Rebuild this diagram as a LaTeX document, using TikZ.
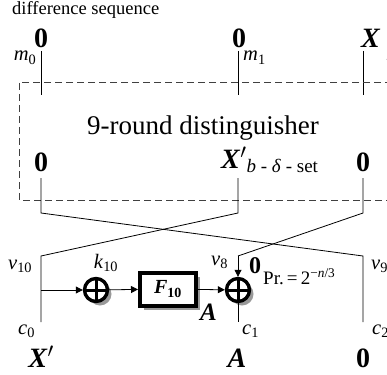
\documentclass[tikz,border=0pt]{standalone}
\usepackage{fontspec}
\setmainfont{Liberation Serif}
\usetikzlibrary{arrows.meta,shadows}
\newcommand{\vlab}[2]{\textit{#1}\textsubscript{#2}}
\newcommand{\bvar}[1]{\textbf{\textit{#1}}}
\tikzset{
  sig/.style={line width=0.8pt},
  flow/.style={sig,-{Triangle[length=7pt,width=7pt]}},
  frame/.style={line width=0.8pt,black!75,dash pattern=on 7pt off 4pt},
  shade/.style={drop shadow={shadow xshift=4pt,shadow yshift=-4pt,fill=black!40,opacity=1}},
  xorop/.style={circle,draw,line width=3.4pt,minimum size=23pt,inner sep=0pt,fill=white,shade,
    path picture={\draw[line width=3pt] (path picture bounding box.north)--(path picture bounding box.south)
      (path picture bounding box.west)--(path picture bounding box.east);}},
  fbox/.style={draw,line width=4pt,minimum width=56pt,minimum height=33pt,fill=white,shade,
    font=\fontsize{20}{20}\selectfont},
  bignum/.style={font=\fontsize{28}{28}\selectfont\bfseries},
  varlbl/.style={font=\fontsize{20.5}{20.5}\selectfont,inner sep=0pt},
}
\begin{document}
\begin{tikzpicture}[x=1pt,y=-1pt]
\useasboundingbox (0,0) rectangle (387,374);
\node[anchor=base west,inner sep=0pt,font=\fontsize{18.5}{18.5}\selectfont] (title) at (12,15) {difference sequence};
% input differences
\node[bignum,anchor=base,inner sep=0pt] (in0) at (41,48) {0};
\node[bignum,anchor=base,inner sep=0pt] (in1) at (239,48) {0};
\node[bignum,anchor=base west,inner sep=0pt] (in2) at (361,48) {\bvar{X}};
\node[varlbl,anchor=base] (m0) at (25,61) {\vlab{m}{0}};
\node[varlbl,anchor=base west] (m1) at (243,61) {\vlab{m}{1}};
\node[varlbl,anchor=base west] (m2) at (386,61) {\vlab{m}{2}};
\foreach \n/\x in {0/41,1/238,2/363} {
  \coordinate (top\n) at (\x,51); \coordinate (bot\n) at (\x,95);
  \draw[sig] (top\n)--(bot\n);
}
% distinguisher
\draw[frame] (392,82) -| (19,200) -- (392,200);
\node[anchor=base,inner sep=0pt,font=\fontsize{27}{27}\selectfont] (dist) at (203,134) {9-round distinguisher};
\node[bignum,anchor=base,inner sep=0pt] (out0) at (41,171) {0};
\node[bignum,anchor=base west,inner sep=0pt] (out1) at (221,168) {\bvar{X}$'$\textsubscript{\fontsize{19}{19}\selectfont\mdseries\textit{b} - \textit{δ} - set}};
\node[bignum,anchor=base,inner sep=0pt] (out2) at (363,171) {0};
% swap
\foreach \n/\x in {0/41,1/238,2/363} {
  \coordinate (o\n) at (\x,178); \coordinate (s\n) at (\x,213);
  \coordinate (r\n) at (\x,256); \coordinate (e\n) at (\x,322);
}
% last round
\node[xorop] (xk) at (96,290) {};
\node[fbox] (f) at (168,289) {\bvar{F}\textsubscript{\textbf{10}}};
\node[xorop] (xr) at (238,290) {};
\draw[sig] (o0)--(s0)--(r2)--(e2);
\draw[sig] (o1)--(s1)--(r0)--(e0);
\draw[sig] (o2)--(s2)--(r1);
\draw[flow] (r1)--(xr.north);
\draw[sig] (xr.south)--(e1);
\draw[flow] (e0 |- xk)--(xk);
\draw[flow] (xk)--(f);
\draw[flow] (f)--(xr);
\node[varlbl,anchor=base] (k) at (106,268) {\vlab{k}{10}};
\node[varlbl,anchor=base west] (v10) at (8,269) {\vlab{v}{10}};
\node[varlbl,anchor=base west] (v8) at (211,265) {\vlab{v}{8}};
\node[varlbl,anchor=base west] (v9) at (371,269) {\vlab{v}{9}};
\node[bignum,anchor=base west,inner sep=0pt,font=\fontsize{24}{24}\selectfont\bfseries] (z) at (249,273) {0};
\node[anchor=base west,inner sep=0pt,font=\fontsize{19}{19}\selectfont] (pr) at (263,284) {Pr.\,=\,2\textsuperscript{−\textit{n}/3}};
\node[bignum,anchor=base west,inner sep=0pt,font=\fontsize{25}{25}\selectfont] (a) at (200,320) {\bvar{A}};
\node[varlbl,anchor=base west] (c0) at (18,334) {\vlab{c}{0}};
\node[varlbl,anchor=base west] (c1) at (242,334) {\vlab{c}{1}};
\node[varlbl,anchor=base west] (c2) at (372,334) {\vlab{c}{2}};
% ciphertext differences
\node[bignum,anchor=base,inner sep=0pt] (d0) at (41,367) {\bvar{X}$'$};
\node[bignum,anchor=base,inner sep=0pt] (d1) at (237,367) {\bvar{A}};
\node[bignum,anchor=base,inner sep=0pt] (d2) at (363,367) {0};
\end{tikzpicture}
\end{document}
